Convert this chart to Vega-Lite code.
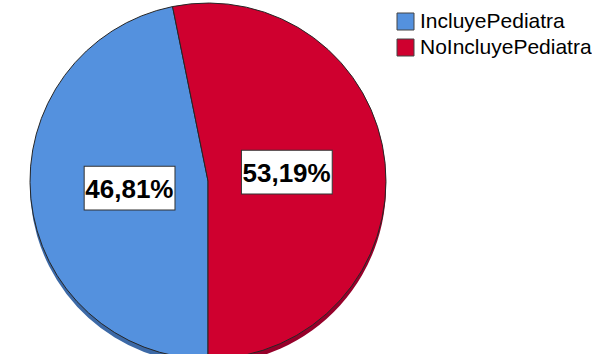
{
  "$schema": "https://vega.github.io/schema/vega-lite/v6.json",
  "width": 416,
  "height": 362,
  "padding": 0,
  "background": "white",
  "view": {"stroke": null},
  "data": {
    "values": [
      {"categoria": "IncluyePediatra", "porcentaje": 46.81, "etiqueta": "46,81%"},
      {"categoria": "NoIncluyePediatra", "porcentaje": 53.19, "etiqueta": "53,19%"}
    ]
  },
  "encoding": {
    "theta": {"field": "porcentaje", "type": "quantitative", "stack": true, "scale": {"range": [3.14159265, 9.42477796]}}
  },
  "layer": [
    {
      "mark": {"type": "arc", "radius": 178, "yOffset": 5},
      "encoding": {
        "color": {"field": "categoria", "type": "nominal", "scale": {"domain": ["IncluyePediatra", "NoIncluyePediatra"], "range": ["#3C69A6", "#96002A"]}, "legend": null}
      }
    },
    {
      "mark": {"type": "arc", "radius": 178, "stroke": "#262626", "strokeWidth": 1},
      "encoding": {
        "color": {
          "field": "categoria", "type": "nominal",
          "scale": {"domain": ["IncluyePediatra", "NoIncluyePediatra"], "range": ["#5491DE", "#CF002F"]},
          "legend": {
            "title": null, "orient": "none", "legendX": 395, "legendY": 11, "padding": 0,
            "symbolType": "square", "symbolSize": 289, "symbolStrokeColor": "#444444", "symbolStrokeWidth": 1,
            "symbolOpacity": 1,
            "labelFont": "Liberation Sans", "labelFontSize": 21, "labelColor": "black", "labelOffset": 4,
            "labelLimit": 400, "rowPadding": 4, "symbolOffset": 0
          }
        }
      }
    },
    {
      "mark": {"type": "text", "radius": 79, "text": "▬", "font": "DejaVu Sans", "fontSize": 119, "dy": -6, "fill": "white", "stroke": "#333333", "strokeWidth": 1, "align": "center", "baseline": "middle"},
      "encoding": {"detail": {"field": "categoria", "type": "nominal"}}
    },
    {
      "mark": {"type": "text", "radius": 79, "font": "Liberation Sans", "fontWeight": "bold", "fontSize": 26, "dy": 1, "fill": "black", "align": "center", "baseline": "middle"},
      "encoding": {"detail": {"field": "categoria", "type": "nominal"}, "text": {"field": "etiqueta", "type": "nominal"}}
    }
  ],
  "resolve": {"scale": {"color": "independent"}}
}
